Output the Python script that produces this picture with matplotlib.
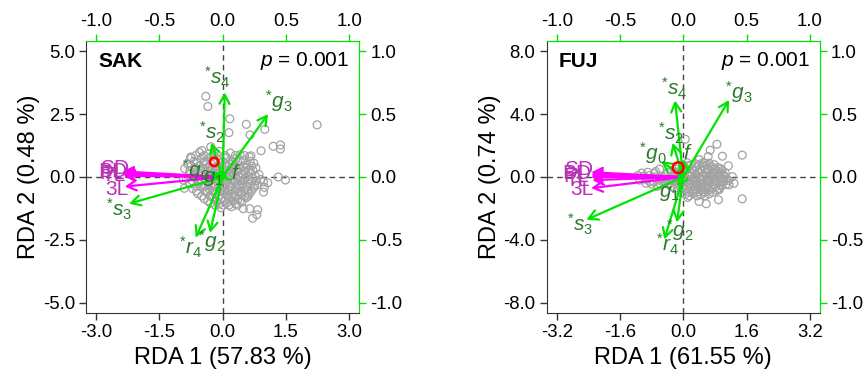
import matplotlib
matplotlib.use("Agg")
import matplotlib.pyplot as plt
from matplotlib.ticker import FormatStrFormatter

plt.rcParams['font.family'] = ['Liberation Sans', 'DejaVu Sans']
plt.rcParams['mathtext.fontset'] = 'custom'
plt.rcParams['mathtext.rm'] = 'Liberation Sans'
plt.rcParams['mathtext.it'] = 'Liberation Sans:italic'
plt.rcParams['axes.unicode_minus'] = False

# ---------------- data ----------------
# SAK site scores (RDA1, RDA2)
sak_x = [-0.55, -0.33, -0.08, 0.18, 0.41, -0.74, -0.52, -0.29, -0.12, 0.09, 0.31, 0.49, 0.63,
         -0.83, -0.61, -0.41, -0.03, 0.16, 0.36, 0.56, 0.74, -0.90, -0.66, -0.46, -0.24, 0.02,
         0.21, 0.42, 0.61, 0.79, -0.79, -0.58, -0.39, -0.18, 0.06, 0.26, 0.46, 0.66, 0.86,
         -0.86, -0.63, -0.43, -0.20, 0.11, 0.31, 0.51, 0.71, 0.90, -0.77, -0.56, -0.34, -0.11,
         0.07, 0.29, 0.47, 0.69, 0.83, -0.71, -0.49, -0.31, -0.09, 0.13, 0.33, 0.53, 0.73,
         -0.59, -0.37, -0.17, 0.03, 0.23, 0.43, 0.63, -0.44, -0.24, -0.04, 0.16, 0.36, 0.56,
         -0.29, -0.09, 0.11, 0.31, 0.46, -0.04, 0.21,
         -0.45, -0.20, 0.05, 0.25, -0.55, -0.30, -0.05, 0.15, 0.35, 0.55, -0.50, -0.25, 0.00,
         0.20, 0.40, 0.60, -0.40, -0.20, 0.00, 0.20, 0.40, 0.60, -0.25, 0.05, 0.30, -0.10,
         0.10, 0.30, 0.45,
         -0.40, -0.35, 0.17, 0.56, 0.15, 0.65, 1.00, 2.24, 1.20, 1.37, 1.37, 0.91, 0.67,
         1.32, 1.49, 0.97, 1.07, 0.99, 0.97, 0.49, 0.64, 0.83, 0.71, 0.81, -0.28, -0.49,
         -0.64, -0.76, -0.93, -0.91]
sak_y = [0.98, 0.92, 1.02, 0.95, 0.88, 0.76, 0.71, 0.79, 0.68, 0.77, 0.72, 0.66, 0.80,
         0.52, 0.58, 0.49, 0.56, 0.50, 0.59, 0.47, 0.55, 0.33, 0.38, 0.30, 0.36, 0.31,
         0.39, 0.33, 0.27, 0.36, 0.12, 0.18, 0.10, 0.16, 0.09, 0.17, 0.12, 0.19, 0.10,
         -0.06, -0.02, -0.09, -0.03, -0.07, -0.01, -0.08, -0.03, -0.10, -0.27, -0.21, -0.29, -0.23,
         -0.30, -0.22, -0.28, -0.20, -0.31, -0.46, -0.41, -0.50, -0.43, -0.49, -0.41, -0.47, -0.44,
         -0.66, -0.61, -0.69, -0.62, -0.68, -0.60, -0.67, -0.86, -0.81, -0.88, -0.83, -0.89, -0.82,
         -1.04, -1.08, -1.02, -1.07, -1.00, -1.22, -1.18,
         0.60, 0.55, 0.45, 0.60, 0.25, 0.22, 0.20, 0.25, 0.22, 0.35, -0.15, -0.12, -0.15,
         -0.12, -0.15, -0.12, -0.35, -0.35, -0.40, -0.35, -0.32, -0.55, -0.55, -0.55, -0.55, -0.75,
         -0.72, -0.75, -0.72,
         3.20, 2.80, 2.31, 2.09, 1.76, 1.67, 1.89, 2.07, 1.22, 1.27, 1.11, 1.04, 0.84,
         0.00, -0.12, -0.19, -0.23, -0.41, -0.60, -1.26, -1.26, -1.30, -1.64, -1.50, 1.20, 1.05,
         0.85, 0.79, -0.12, -0.45]
# extra SAK core scores, grouped by RDA2 row
sak_row_y = [0.85, 0.62, 0.43, 0.25, 0.03, -0.15, -0.36, -0.56, -0.76, -0.95, -1.12]
sak_row_x = [[-0.44, -0.20, 0.05, 0.30, 0.52],
             [-0.68, -0.40, -0.20, 0.00, 0.22, 0.42, 0.65],
             [-0.75, -0.55, -0.33, -0.13, 0.10, 0.30, 0.50, 0.68],
             [-0.78, -0.35, -0.15, 0.10, 0.32, 0.52, 0.72],
             [-0.70, -0.50, -0.30, -0.08, 0.18, 0.38, 0.58, 0.78],
             [-0.72, -0.38, -0.15, 0.08, 0.27, 0.48, 0.80],
             [-0.62, -0.44, -0.22, -0.02, 0.18, 0.38, 0.58, 0.76],
             [-0.62, -0.40, -0.18, 0.15, 0.38, 0.52, 0.68],
             [-0.50, -0.30, -0.08, 0.12, 0.22, 0.52, 0.60],
             [-0.35, -0.15, 0.05, 0.25, 0.42],
             [-0.18, 0.02, 0.15, 0.35]]

# FUJ site scores (RDA1, RDA2)
fuj_x = [0.10, 0.30, 0.50, 0.65, -0.10, 0.12, 0.32, 0.52, 0.72, 0.88,
         -0.30, -0.10, 0.10, 0.28, 0.46, 0.64, 0.82, 0.98,
         -0.45, -0.25, -0.05, 0.13, 0.31, 0.49, 0.67, 0.85, 1.02,
         -0.55, -0.35, -0.15, 0.05, 0.23, 0.41, 0.59, 0.77, 0.95, 1.10,
         -0.45, -0.25, -0.05, 0.13, 0.31, 0.49, 0.67, 0.85, 1.02,
         -0.30, -0.10, 0.10, 0.28, 0.46, 0.64, 0.82, 0.97,
         -0.15, 0.05, 0.25, 0.45, 0.65, 0.85, 0.05, 0.25, 0.45, 0.65,
         0.20, 0.40, 0.00, 0.60, 0.35, 0.15, 0.55, 0.75, 0.30, 0.50,
         -0.70, -0.85, -0.95, -0.75, -0.60, -1.00, -0.80, -0.65,
         0.85, 0.99, 1.49, 1.14, 0.68, 1.24, 1.16, 1.28, 1.49, 0.89, 0.40, 0.58, 0.11,
         0.53, 0.78, 0.99, 0.91, -0.90, -0.94, -0.73, -0.57, 0.05, 0.63, 0.40,
         -1.10, -0.90, -1.05, -0.85, -0.70, -0.60, -1.15]
fuj_y = [0.90, 0.85, 0.92, 0.88, 0.65, 0.70, 0.62, 0.68, 0.64, 0.60,
         0.40, 0.35, 0.45, 0.38, 0.42, 0.36, 0.44, 0.40,
         0.15, 0.10, 0.18, 0.12, 0.16, 0.10, 0.14, 0.18, 0.12,
         -0.10, -0.05, -0.14, -0.08, -0.12, -0.06, -0.10, -0.14, -0.08, -0.12,
         -0.35, -0.30, -0.38, -0.32, -0.36, -0.40, -0.33, -0.37, -0.31,
         -0.60, -0.55, -0.62, -0.58, -0.64, -0.57, -0.61, -0.56,
         -0.85, -0.80, -0.88, -0.84, -0.82, -0.86, -1.10, -1.05, -1.12, -1.08,
         0.25, 0.28, -0.22, -0.20, -0.48, -0.45, 0.52, 0.00, -0.75, -0.95,
         0.35, 0.10, -0.15, -0.30, 0.50, 0.05, -0.45, -0.60,
         2.08, 1.32, 1.39, 0.71, 1.70, 0.02, -0.50, -0.40, -1.39, -1.45, -1.56, -1.70, -1.30,
         0.86, 0.23, -0.30, -0.80, -0.10, -0.40, 0.23, -0.50, 2.40, 1.30, 1.10,
         -0.20, 0.30, 0.25, -0.30, 0.00, -0.20, 0.10]
# extra FUJ core scores, grouped by RDA2 row
fuj_row_y = [0.78, 0.52, 0.28, 0.02, -0.22, -0.48, -0.72, -0.97, -1.20]
fuj_row_x = [[0.00, 0.20, 0.40, 0.60, 0.78],
             [-0.20, 0.02, 0.22, 0.42, 0.62, 0.80, 0.95],
             [-0.40, -0.20, 0.00, 0.20, 0.38, 0.56, 0.74, 0.92, 1.06],
             [-0.50, -0.30, -0.10, 0.14, 0.32, 0.50, 0.68, 0.86, 1.05],
             [-0.50, -0.30, -0.10, 0.10, 0.28, 0.46, 0.64, 0.82, 1.00, 1.15],
             [-0.38, -0.18, 0.02, 0.20, 0.40, 0.58, 0.76, 0.94, 1.08],
             [-0.22, -0.02, 0.18, 0.38, 0.56, 0.74, 0.90],
             [-0.05, 0.15, 0.35, 0.55, 0.75],
             [0.15, 0.35, 0.55]]

# red point (centroid)
sak_red = (-0.20, 0.60)
fuj_red = (-0.13, 0.59)

# green constraint arrows: tip and label positions
green_names = ['s_{4}', 'g_{3}', 's_{2}', 'g_{0}', 'g_{1}', 'f', 's_{3}', 'g_{2}', 'r_{4}']
green_star = [True, True, True, True, False, False, True, True, True]
sak_gx = [0.05, 1.08, -0.27, -0.30, -0.10, 0.12, -2.22, -0.30, -0.64]
sak_gy = [3.36, 2.50, 1.35, 0.12, -0.05, 0.05, -1.06, -2.22, -2.41]
sak_glx = [-0.13, 1.33, -0.24, -0.64, -0.21, 0.31, -2.46, -0.27, -0.76]
sak_gly = [3.94, 3.03, 1.78, 0.28, -0.05, 0.12, -1.30, -2.55, -2.80]
fuj_gx = [-0.21, 1.16, -0.27, -0.56, -0.15, 0.02, -2.45, -0.16, -0.48]
fuj_gy = [4.86, 4.90, 2.16, 1.00, -0.60, 1.10, -2.71, -2.88, -3.97]
fuj_glx = [-0.23, 1.41, -0.31, -0.77, -0.35, 0.11, -2.62, -0.10, -0.40]
fuj_gly = [5.60, 5.38, 2.76, 1.49, -1.03, 1.49, -3.03, -3.34, -4.29]

# magenta trait arrows
mag_names = ['SD', 'BD', 'PL', 'TL', '3L']
sak_mx = [-2.38, -2.38, -2.36, -2.35, -2.32]
sak_my = [0.22, 0.15, 0.10, 0.05, -0.38]
sak_mlx = [-2.56, -2.60, -2.62, -2.58, -2.50]
sak_mly = [0.32, 0.20, 0.12, 0.05, -0.51]
fuj_mx = [-2.33, -2.33, -2.33, -2.30, -2.33]
fuj_my = [0.30, 0.15, 0.00, -0.20, -0.71]
fuj_mlx = [-2.66, -2.70, -2.72, -2.68, -2.57]
fuj_mly = [0.45, 0.20, 0.00, -0.20, -0.82]

panels = [
    dict(name='SAK', px=sak_x, py=sak_y, ry=sak_row_y, rx=sak_row_x, red=sak_red,
         gx=sak_gx, gy=sak_gy, glx=sak_glx, gly=sak_gly,
         mx=sak_mx, my=sak_my, mlx=sak_mlx, mly=sak_mly, xmax=3.0, ymax=5.0,
         xlab='RDA 1 (57.83 %)', ylab='RDA 2 (0.48 %)', left=0.0991, rsize=38),
    dict(name='FUJ', px=fuj_x, py=fuj_y, ry=fuj_row_y, rx=fuj_row_x, red=fuj_red,
         gx=fuj_gx, gy=fuj_gy, glx=fuj_glx, gly=fuj_gly,
         mx=fuj_mx, my=fuj_my, mlx=fuj_mlx, mly=fuj_mly, xmax=3.2, ymax=8.0,
         xlab='RDA 1 (61.55 %)', ylab='RDA 2 (0.74 %)', left=0.6298, rsize=60),
]

GREEN = '#00E400'
DKGREEN = '#2B7A2B'
MAG = '#FF00FF'
DKMAG = '#B833B8'

fig = plt.figure(figsize=(8.68, 3.78), dpi=100)

for p in panels:
    ax = fig.add_axes([p['left'], 0.172, 0.3148, 0.7196])
    xm, ym = p['xmax'], p['ymax']
    ax.set_xlim(-xm * 1.08, xm * 1.08)
    ax.set_ylim(-ym * 1.08, ym * 1.08)
    ax.axhline(0, color='#444444', ls=(0, (4, 3)), lw=1, zorder=1)
    ax.axvline(0, color='#444444', ls=(0, (4, 3)), lw=1, zorder=1)

    ax.scatter(p['px'], p['py'], s=32, facecolors='none', edgecolors='#A3A3A3', lw=0.9, zorder=2)
    for ry, rx in zip(p['ry'], p['rx']):
        ax.scatter(rx, [ry] * len(rx), s=32, facecolors='none', edgecolors='#A3A3A3', lw=0.9, zorder=2)

    for tx, ty in zip(p['mx'], p['my']):
        ax.annotate('', xy=(tx, ty), xytext=(0, 0),
                    arrowprops=dict(arrowstyle='->,head_length=0.55,head_width=0.3', color=MAG,
                                    lw=1.6, shrinkA=0, shrinkB=0, mutation_scale=12), zorder=3)
    for name, lx, ly in zip(mag_names, p['mlx'], p['mly']):
        ax.text(lx, ly, name, color=DKMAG, fontsize=15, ha='center', va='center', zorder=4)

    for tx, ty in zip(p['gx'], p['gy']):
        ax.annotate('', xy=(tx, ty), xytext=(0, 0),
                    arrowprops=dict(arrowstyle='->,head_length=0.55,head_width=0.3', color=GREEN,
                                    lw=1.6, shrinkA=0, shrinkB=0, mutation_scale=12), zorder=5)
    for name, star, lx, ly in zip(green_names, green_star, p['glx'], p['gly']):
        lab = ('$^{*}' if star else '$') + name + '$'
        ax.text(lx, ly, lab, color=DKGREEN, fontsize=15, ha='center', va='center', zorder=6)

    ax.scatter([p['red'][0]], [p['red'][1]], s=p['rsize'], facecolors='none', edgecolors='red',
               lw=1.8, zorder=7)

    ax.text(0.044, 0.925, p['name'], transform=ax.transAxes, fontsize=15, fontweight='bold',
            ha='left', va='center')
    ax.text(0.963, 0.925, '$p$ = 0.001', transform=ax.transAxes, fontsize=15, ha='right', va='center')

    ax.set_xticks([-xm, -xm / 2, 0, xm / 2, xm])
    ax.set_yticks([-ym, -ym / 2, 0, ym / 2, ym])
    ax.xaxis.set_major_formatter(FormatStrFormatter('%.1f'))
    ax.yaxis.set_major_formatter(FormatStrFormatter('%.1f'))
    ax.tick_params(labelsize=13.4, length=5, width=1, color='#333333', pad=3)
    for s in ['left', 'bottom']:
        ax.spines[s].set_color('#333333')
    for s in ['top', 'right']:
        ax.spines[s].set_color(GREEN)
    ax.set_xlabel(p['xlab'], fontsize=17, labelpad=4)
    ax.set_ylabel(p['ylab'], fontsize=17, labelpad=2)

    sx = ax.secondary_xaxis('top', functions=(lambda v, k=xm: v / k, lambda v, k=xm: v * k))
    sy = ax.secondary_yaxis('right', functions=(lambda v, k=ym: v / k, lambda v, k=ym: v * k))
    for sa in (sx, sy):
        sa.set_ticks([-1.0, -0.5, 0.0, 0.5, 1.0])
        sa.tick_params(labelsize=13.4, length=5, width=1, color=GREEN, pad=3)
    sx.xaxis.set_major_formatter(FormatStrFormatter('%.1f'))
    sy.yaxis.set_major_formatter(FormatStrFormatter('%.1f'))
    sx.spines['top'].set_color(GREEN)
    sy.spines['right'].set_color(GREEN)

fig.savefig('out.png', dpi=100)
